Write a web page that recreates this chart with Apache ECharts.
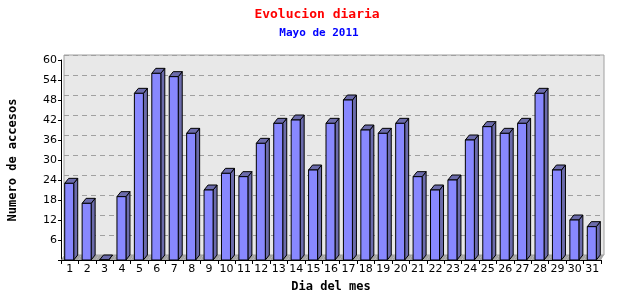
<!DOCTYPE html>
<html>
<head>
<meta charset="utf-8">
<script src="https://cdn.jsdelivr.net/npm/echarts@6/dist/echarts.min.js"></script>
<style>html,body{margin:0;padding:0;background:#fff;}#c{width:640px;height:300px;}</style>
</head>
<body>
<div id="c"></div>
<script>
var days = ['1','2','3','4','5','6','7','8','9','10','11','12','13','14','15','16','17','18','19','20','21','22','23','24','25','26','27','28','29','30','31'];
var accesos = [23,17,0,19,50,56,55,38,21,26,25,35,41,42,27,41,48,39,38,41,25,21,24,36,40,38,41,50,27,12,10];
var yTicks = [0,6,12,18,24,30,36,42,48,54,60];

var chart = echarts.init(document.getElementById('c'), null, {renderer:'canvas'});
var DX = 3, DY = -5;
function renderBar(params, api) {
  var idx = api.value(0), v = api.value(1);
  var p0 = api.coord([idx, 0]);
  var p1 = api.coord([idx, v]);
  var cw = api.size([1, 0])[0];
  var cx = p0[0];
  var x0 = cx - 5, x1 = cx + 4;
  var y0 = p0[1], y1 = p1[1];
  var xl = cx - cw / 2, xr = cx + cw / 2;
  var children = [
    {type:'polygon', shape:{points:[[xl,y0],[xr,y0],[xr+DX,y0+DY],[xl+DX,y0+DY]]}, style:{fill:'#a4a4a4'}, z2:1},
    {type:'polygon', shape:{points:[[x1,y1],[x1+DX+1,y1+DY],[x1+DX+1,y0+DY],[x1,y0]]}, style:{fill:'#6b6bab', stroke:'#000', lineWidth:1}, z2:2},
    {type:'polygon', shape:{points:[[x0,y1],[x1,y1],[x1+DX+1,y1+DY],[x0+DX+1,y1+DY]]}, style:{fill:'#6b6bab', stroke:'#000', lineWidth:1}, z2:2},
    {type:'rect', shape:{x:x0, y:y1, width:x1-x0, height:y0-y1}, style:{fill:'#8888ff', stroke:'#000', lineWidth:1}, z2:3}
  ];
  return {type:'group', children:children};
}

var data = days.map(function(d, i){ return [i, accesos[i]]; });

chart.setOption({
  animation:false,
  backgroundColor:'#fff',
  title:[
    {text:'Evolucion diaria', left:312, top:3, textAlign:'center',
     textStyle:{color:'#ff0000', fontFamily:'DejaVu Sans Mono', fontWeight:'bold', fontSize:13}},
    {text:'Mayo de 2011', left:314, top:23, textAlign:'center',
     textStyle:{color:'#0000ff', fontFamily:'DejaVu Sans Mono', fontWeight:'bold', fontSize:11}}
  ],
  grid:[
    {left:64, top:55, right:36, bottom:45, show:true, backgroundColor:'#e8e8e8', borderColor:'#a0a0a0', borderWidth:1, containLabel:false, outerBoundsMode:'none'},
    {left:61, top:60, right:39, bottom:40, containLabel:false, outerBoundsMode:'none'}
  ],
  xAxis:[
    {type:'category', gridIndex:0, data:days, show:false},
    {type:'category', gridIndex:1, data:days,
     name:'Dia del mes', nameLocation:'middle', nameGap:21,
     nameTextStyle:{fontFamily:'DejaVu Sans Mono', fontWeight:'bold', fontSize:12, color:'#000'},
     axisLine:{lineStyle:{color:'#000'}},
     axisTick:{show:true, alignWithLabel:false, length:4, lineStyle:{color:'#000'}},
     axisLabel:{interval:0, fontFamily:'DejaVu Sans', fontSize:11, color:'#000', margin:4},
     splitLine:{show:false}}
  ],
  yAxis:[
    {type:'value', gridIndex:0, min:0, max:60, interval:6,
     axisLine:{show:false}, axisTick:{show:false}, axisLabel:{show:false},
     splitLine:{show:true, lineStyle:{color:'#a0a0a0', type:[5,4], width:1}}},
    {type:'value', gridIndex:1, min:0, max:60, interval:6,
     name:'Numero de accesos', nameLocation:'middle', nameGap:42, nameRotate:90,
     nameTextStyle:{fontFamily:'DejaVu Sans Mono', fontWeight:'bold', fontSize:12, color:'#000'},
     axisLine:{show:true, lineStyle:{color:'#000'}},
     axisTick:{show:true, length:3, lineStyle:{color:'#000'}},
     axisLabel:{fontFamily:'DejaVu Sans', fontSize:11, color:'#000', margin:4,
       formatter:function(v){ return v === 0 ? '' : String(v); }},
     splitLine:{show:false}}
  ],
  series:[
    {type:'custom', xAxisIndex:1, yAxisIndex:1, renderItem:renderBar, data:data, z:5,
     encode:{x:0, y:1}}
  ]
});
</script>
</body>
</html>
